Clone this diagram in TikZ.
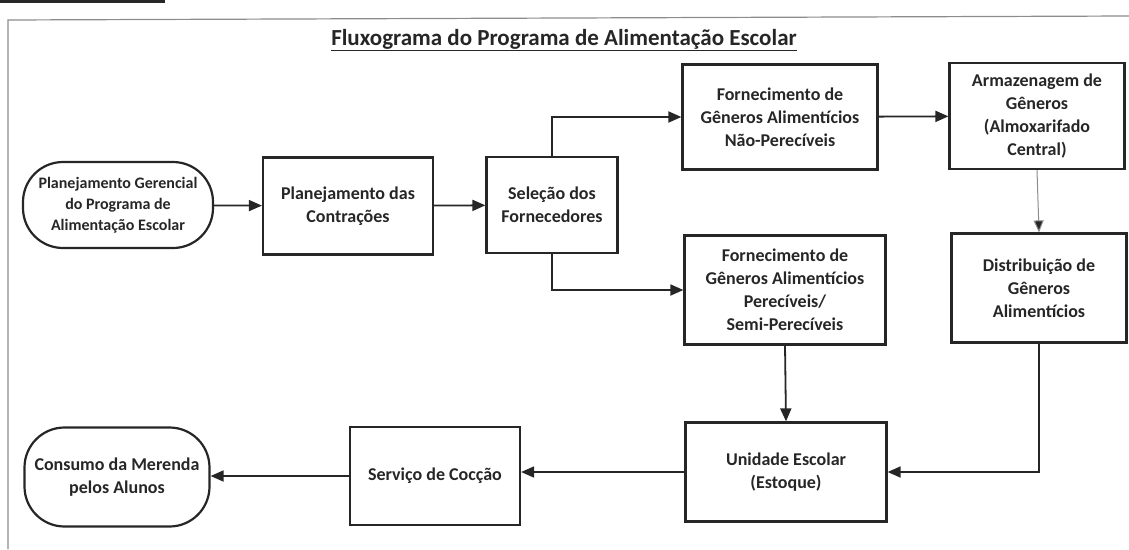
\documentclass[tikz,border=0pt]{standalone}
\usepackage{fontspec}
\setmainfont{Carlito}
\usetikzlibrary{arrows.meta, positioning}

\definecolor{ink}{HTML}{262626}
\definecolor{frame}{HTML}{8C8C8C}

\tikzset{
  stepbox/.style={draw=ink, line width=2.2pt, align=center, text=ink, inner sep=2pt},
  endbox/.style={stepbox, rounded corners=40pt},
  flow/.style={draw=ink, line width=1.8pt, -{Triangle[length=13pt,width=11pt]}},
  thinflow/.style={draw=frame, line width=1pt, -{Triangle[length=12pt,width=10pt,fill=ink]}}
}

\begin{document}
\begin{tikzpicture}[x=1pt, y=-1pt, font=\fontsize{18}{23}\selectfont\bfseries]
    \useasboundingbox (0,0) rectangle (1129,549);

    % Frame
    \fill[ink] (0,0) rectangle (165,3);
    \draw[frame, line width=1.2pt] (8,549) -- (8,20) -- (1129,16);

    % Title
    \node[text=ink, font=\fontsize{23}{27}\selectfont\bfseries] (title) at (564,40) {\underline{Fluxograma do Programa de Alimentação Escolar}};

    % Nodes
    \node[endbox, minimum width=190pt, minimum height=86pt, font=\fontsize{16}{21}\selectfont\bfseries] (plan) at (118,205) {Planejamento Gerencial\\do Programa de\\Alimentação Escolar};
    \node[stepbox, minimum width=170pt, minimum height=97pt] (contr) at (348,206) {Planejamento das\\Contrações};
    \node[stepbox, minimum width=131pt, minimum height=96pt] (selec) at (552,205) {Seleção dos\\Fornecedores};
    \node[stepbox, minimum width=195pt, minimum height=105pt] (naoper) at (780,117) {Fornecimento de\\Gêneros Alimentícios\\Não-Perecíveis};
    \node[stepbox, minimum width=175pt, minimum height=106pt] (armaz) at (1037,116) {Armazenagem de\\Gêneros\\(Almoxarifado\\Central)};
    \node[stepbox, minimum width=201pt, minimum height=109pt] (perec) at (785,290) {Fornecimento de\\Gêneros Alimentícios\\Perecíveis/\\Semi-Perecíveis};
    \node[stepbox, minimum width=175pt, minimum height=109pt] (distr) at (1039,288) {Distribuição de\\Gêneros\\Alimentícios};
    \node[stepbox, minimum width=201pt, minimum height=99pt] (unid) at (786,472) {Unidade Escolar\\(Estoque)};
    \node[stepbox, minimum width=170pt, minimum height=98pt] (serv) at (435,476) {Serviço de Cocção};
    \node[endbox, minimum width=185pt, minimum height=99pt] (cons) at (117,477) {Consumo da Merenda\\pelos Alunos};

    % Connectors
    \draw[flow] (plan) -- (contr);
    \draw[flow] (contr) -- (selec);
    \draw[flow] (selec.north) |- (naoper.west);
    \draw[flow] (selec.south) |- (perec.west);
    \draw[flow] (naoper) -- (armaz);
    \draw[thinflow] (armaz.south) -- (distr.north);
    \draw[flow] (perec.south) -- (unid.north);
    \draw[flow] (distr.south) |- (unid.east);
    \draw[flow] (unid.west) -- (serv.east |- unid.west);
    \draw[flow] (serv.west) -- (cons.east |- serv.west);
\end{tikzpicture}
\end{document}
